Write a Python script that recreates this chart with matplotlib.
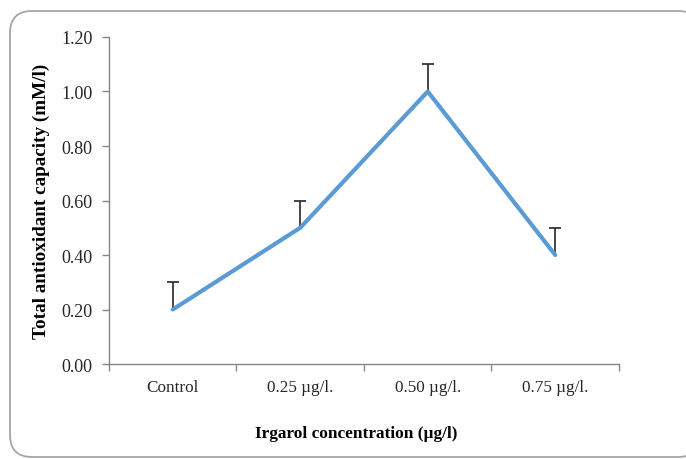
import numpy as np
import matplotlib
matplotlib.use("Agg")
import matplotlib.pyplot as plt
from matplotlib.patches import FancyBboxPatch
from matplotlib.ticker import FixedLocator, FormatStrFormatter

# data
groups = ["Control", "0.25 \u00b5g/l.", "0.50 \u00b5g/l.", "0.75 \u00b5g/l."]
tac = [0.20, 0.50, 1.00, 0.40]
tac_err = [0.10, 0.10, 0.10, 0.10]

plt.rcParams["font.family"] = ["Liberation Serif", "DejaVu Serif"]

fig = plt.figure(figsize=(6.86, 4.6), dpi=100)

# rounded frame around the chart (pixel coords)
bg = fig.add_axes([0, 0, 1, 1], zorder=0)
bg.set_xlim(0, 686)
bg.set_ylim(460, 0)
bg.axis("off")
frame = FancyBboxPatch((10, 12), 690, 446, boxstyle="round,pad=0,rounding_size=22",
                       fc="white", ec="#a6a6a6", lw=1.3)
bg.add_patch(frame)

ax = fig.add_axes([0.1589, 0.2065, 0.7434, 0.7109], zorder=1)
ax.patch.set_alpha(0)

x = np.arange(len(groups))
eb = ax.errorbar(x, tac, yerr=[np.zeros(len(tac)), tac_err], fmt="none",
                 ecolor="#262626", elinewidth=1.2, capsize=4, capthick=1.2, zorder=2)
# only the upper caps, like Excel "plus" error bars
for cl in eb[1]:
    if np.allclose(cl.get_ydata(), tac):
        cl.set_visible(False)
ax.plot(x, tac, color="#5b9bd5", lw=3, solid_capstyle="round", zorder=3)

ax.set_xlim(-0.5, len(groups) - 0.5)
ax.set_ylim(0, 1.2)
ax.set_yticks(np.arange(0, 1.21, 0.2))
ax.yaxis.set_major_formatter(FormatStrFormatter("%.2f"))

ax.xaxis.set_major_locator(FixedLocator(np.arange(-0.5, len(groups), 1.0)))
ax.xaxis.set_minor_locator(FixedLocator(x))
ax.set_xticklabels([], minor=False)
ax.set_xticklabels(groups, minor=True)
ax.tick_params(axis="x", which="minor", length=0, pad=11, labelsize=12.3,
               labelcolor="#262626")
ax.tick_params(axis="x", which="major", length=5, color="#868686", width=1)
ax.tick_params(axis="y", length=5, color="#868686", width=1, pad=7, labelsize=13,
               labelcolor="#262626")

for s in ["top", "right"]:
    ax.spines[s].set_visible(False)
for s in ["left", "bottom"]:
    ax.spines[s].set_color("#868686")
    ax.spines[s].set_linewidth(1)

ax.set_xlabel("Irgarol concentration (\u00b5g/l)", fontsize=12.4, fontweight="bold", labelpad=22)
ax.set_ylabel("Total antioxidant capacity (mM/l)", fontsize=13.8, fontweight="bold", labelpad=8)
ax.xaxis.set_label_coords(0.484, -0.185)

fig.savefig("out.png", dpi=100)
